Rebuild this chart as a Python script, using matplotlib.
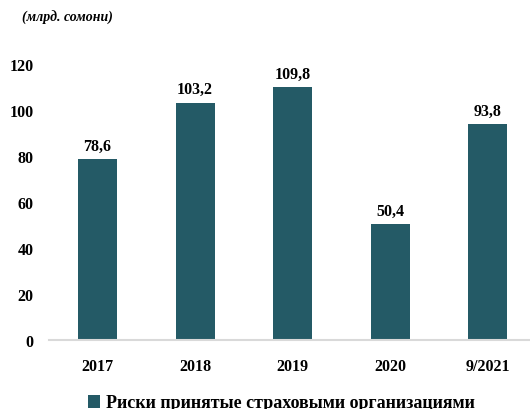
import matplotlib.pyplot as plt
from matplotlib.patches import Patch

years = ["2017", "2018", "2019", "2020", "9/2021"]
risks = [78.6, 103.2, 109.8, 50.4, 93.8]
y_ticks = [0, 20, 40, 60, 80, 100, 120]

bar_color = "#245A66"
plt.rcParams['font.family'] = ['Liberation Serif', 'DejaVu Serif']
plt.rcParams['font.weight'] = 'bold'

fig = plt.figure(figsize=(5.3, 4.1), dpi=100)
ax = fig.add_axes([48.75 / 530, 69 / 410, 487.5 / 530, 276 / 410])

x = range(len(years))
bars = ax.bar(x, risks, width=0.4, color=bar_color)
for xi, v in zip(x, risks):
    ax.annotate(f"{v:.1f}".replace(".", ","), (xi, v), xytext=(0, 4),
                textcoords="offset points", ha="center", va="bottom",
                fontsize=11.5, fontweight="bold")

ax.set_xlim(-0.5, len(years) - 0.5)
ax.set_ylim(0, 120)
ax.set_xticks(list(x))
ax.set_xticklabels(years, fontsize=11.5, fontweight="bold")
ax.set_yticks(y_ticks)
ax.set_yticklabels([str(t) for t in y_ticks], fontsize=11.5, fontweight="bold")
ax.tick_params(axis="y", length=0, pad=11)
ax.tick_params(axis="x", length=0, pad=13)
for s in ["top", "right", "left"]:
    ax.spines[s].set_visible(False)
ax.spines["bottom"].set_color("#D9D9D9")
ax.spines["bottom"].set_linewidth(1.5)

fig.text(22 / 530, 1 - 18 / 410, "(млрд. сомони)", fontsize=10,
         fontstyle="italic", fontweight="bold", va="center", ha="left")

handle = Patch(facecolor=bar_color, edgecolor="none")
fig.legend([handle], ["Риски принятые страховыми организациями"],
           loc="center", bbox_to_anchor=(281 / 530, 1 - 404 / 410),
           frameon=False, handlelength=0.7, handleheight=0.7,
           handletextpad=0.3, prop={'weight': 'bold', 'size': 13})

fig.savefig("out.png", dpi=100)
